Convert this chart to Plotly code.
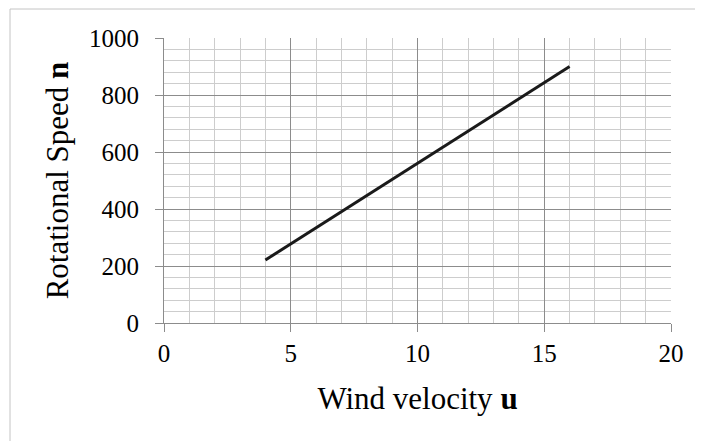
import plotly.graph_objects as go

wind_velocity = [4, 8, 12, 16]
rotational_speed = [221, 447, 674, 900]

# page has an 8px body margin, so figure coordinates are shifted by 8px
L, R, T, B = 156, 40, 30, 126
W, H = 703, 441
pw = W - L - R
ph = H - T - B

def px_x(p):
    return (p - L) / pw

def px_y(p):
    return (H - B - p) / ph

fig = go.Figure()
fig.add_trace(go.Scatter(
    x=wind_velocity, y=rotational_speed, mode="lines",
    line=dict(color="#1a1a1a", width=3), showlegend=False,
))

fam = "Liberation Serif, Times New Roman, serif"
tick_font = dict(family=fam, size=25, color="black")
title_font = dict(family=fam, size=31, color="black")

fig.update_layout(
    width=W, height=H,
    margin=dict(l=L, r=R, t=T, b=B, autoexpand=False),
    paper_bgcolor="white", plot_bgcolor="white",
    font=tick_font,
    xaxis=dict(
        range=[0, 20], dtick=5, tick0=0,
        showgrid=True, gridcolor="#8c8c8c", gridwidth=1,
        minor=dict(dtick=1, showgrid=True, gridcolor="#cdcdcd", gridwidth=1),
        showline=True, linecolor="#8c8c8c", linewidth=1,
        ticks="outside", ticklen=8, tickcolor="#8c8c8c",
        tickfont=tick_font,
        zeroline=False,
        title=dict(text="Wind velocity <b>u</b>", font=title_font, standoff=21),
        automargin=False,
    ),
    yaxis=dict(
        range=[0, 1000], dtick=200, tick0=0,
        showgrid=True, gridcolor="#8c8c8c", gridwidth=1,
        minor=dict(dtick=40, showgrid=True, gridcolor="#cdcdcd", gridwidth=1),
        showline=True, linecolor="#8c8c8c", linewidth=1,
        ticks="outside", ticklen=8, tickcolor="#8c8c8c",
        tickfont=tick_font, ticklabelstandoff=11,
        zeroline=False,
        title=dict(text="Rotational Speed <b>n</b>", font=title_font, standoff=11),
        automargin=False,
    ),
    shapes=[dict(
        type="rect", xref="paper", yref="paper",
        x0=px_x(2), x1=px_x(689), y0=px_y(450), y1=px_y(1),
        line=dict(color="#c4c4c4", width=1), fillcolor="rgba(0,0,0,0)", layer="below",
    )],
)

fig.write_html("out.html")
